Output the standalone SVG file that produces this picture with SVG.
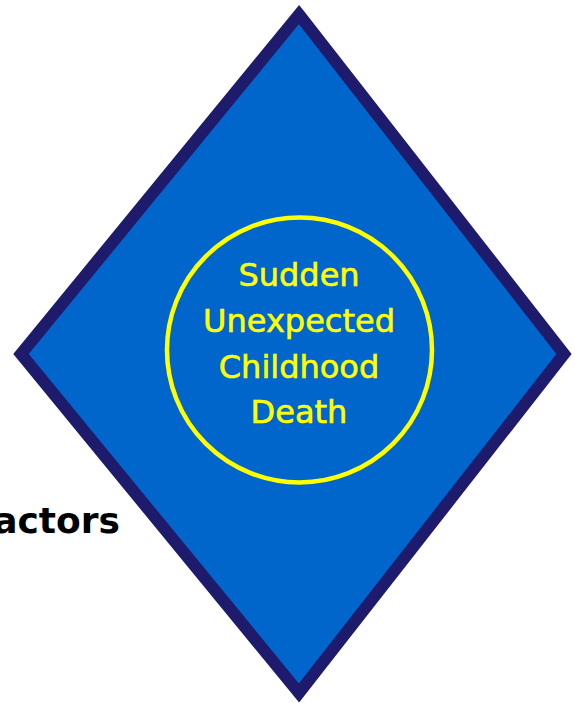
<svg xmlns="http://www.w3.org/2000/svg" width="575" height="703" viewBox="0 0 575 703">
  <style>
    .label { font-family: "DejaVu Sans", "Liberation Sans", sans-serif; }
    .center { fill: #ffff00; stroke: #ffff00; stroke-width: 0.6px; font-size: 32px; text-anchor: middle; }
    .side { fill: #000000; font-size: 36px; font-weight: bold; text-anchor: end; }
  </style>
  <rect width="575" height="703" fill="#ffffff"/>
  <!-- side caption, partly off the left edge -->
  <g id="factors-label">
    <text class="label side" x="120" y="533">actors</text>
  </g>
  <!-- main diamond -->
  <g id="diamond">
    <polygon points="299,14.5 564,354 299,693 21,354" fill="#0066cc" stroke="#1e1a6c" stroke-width="12" stroke-linejoin="miter"/>
  </g>
  <!-- centre circle with title -->
  <g id="sucd">
    <circle cx="299.5" cy="350" r="132.5" fill="none" stroke="#ffff00" stroke-width="4.5"/>
    <text class="label center" x="299" y="286">Sudden</text>
    <text class="label center" x="299" y="332">Unexpected</text>
    <text class="label center" x="299" y="378">Childhood</text>
    <text class="label center" x="299" y="423">Death</text>
  </g>
  <g id="connectors"/>
</svg>
